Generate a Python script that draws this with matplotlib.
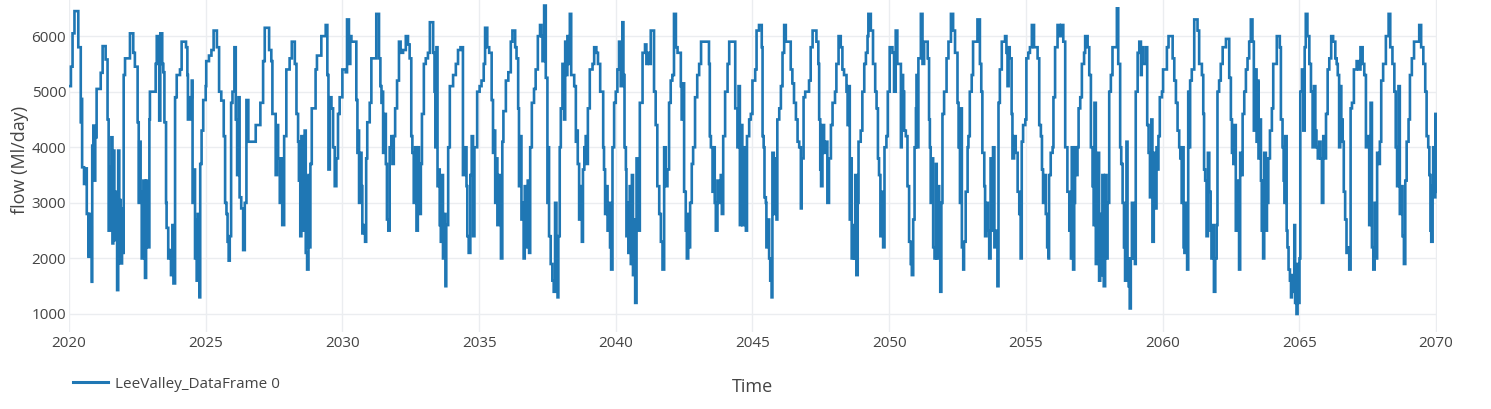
import matplotlib
matplotlib.use("Agg")
import matplotlib.pyplot as plt

plt.rcParams['font.family'] = ['Open Sans', 'DejaVu Sans']

# ---- data: time (decimal years) and flow (Ml/day) ----
time_2020s = [
    2020.00, 2020.07, 2020.13, 2020.20, 2020.34, 2020.43, 2020.45, 2020.48, 2020.55, 2020.61, 2020.65, 2020.71, 2020.74, 2020.78, 2020.83, 2020.85, 2020.89, 2020.94, 2020.96,
    2021.01, 2021.16, 2021.23, 2021.34, 2021.41, 2021.45, 2021.50, 2021.55, 2021.59, 2021.62, 2021.66, 2021.71, 2021.76, 2021.80, 2021.84, 2021.89, 2021.94, 2021.96,
    2022.00, 2022.05, 2022.23, 2022.35, 2022.41, 2022.51, 2022.55, 2022.57, 2022.62, 2022.66, 2022.72, 2022.78, 2022.82, 2022.87, 2022.90, 2022.94, 2022.96,
    2023.17, 2023.21, 2023.30, 2023.34, 2023.41, 2023.45, 2023.49, 2023.55, 2023.57, 2023.63, 2023.70, 2023.73, 2023.78, 2023.82, 2023.88, 2023.94,
    2024.06, 2024.12, 2024.28, 2024.33, 2024.35, 2024.43, 2024.49, 2024.52, 2024.57, 2024.61, 2024.65, 2024.67, 2024.71, 2024.77, 2024.80, 2024.85, 2024.91,
    2025.00, 2025.02, 2025.12, 2025.21, 2025.29, 2025.41, 2025.49, 2025.57, 2025.66, 2025.71, 2025.76, 2025.80, 2025.84, 2025.88, 2025.93, 2025.98,
    2026.05, 2026.10, 2026.15, 2026.20, 2026.24, 2026.30, 2026.37, 2026.43, 2026.49, 2026.56, 2026.83,
    2027.00, 2027.10, 2027.16, 2027.32, 2027.40, 2027.44, 2027.56, 2027.61, 2027.65, 2027.71, 2027.77, 2027.80, 2027.87, 2027.95,
    2028.07, 2028.15, 2028.26, 2028.32, 2028.38, 2028.41, 2028.46, 2028.50, 2028.54, 2028.59, 2028.62, 2028.66, 2028.71, 2028.76, 2028.78, 2028.83, 2028.88,
    2029.02, 2029.07, 2029.23, 2029.39, 2029.45, 2029.49, 2029.54, 2029.60, 2029.66, 2029.72, 2029.78, 2029.84, 2029.90,
]
flow_2020s = [
    5100, 5450, 6050, 6450, 5800, 4450, 4870, 3640, 3340, 3620, 2800, 2030, 2800, 2550, 1580, 4030, 4390, 3400, 4180,
    5050, 5340, 5820, 5580, 4500, 2500, 3640, 4180, 2270, 3940, 2330, 3200, 1430, 3940, 3050, 1910, 2900, 2100,
    5300, 5600, 6050, 5700, 5450, 4450, 3000, 4100, 3200, 2000, 3400, 1650, 3400, 2500, 2200, 4500, 5000,
    5500, 6000, 4480, 6050, 5500, 5350, 4450, 3000, 2550, 2000, 2150, 1700, 2600, 1550, 4900, 5300,
    5400, 5900, 5800, 5300, 4500, 4900, 5200, 3000, 3600, 2000, 2700, 1600, 2800, 1300, 3700, 4300, 4850,
    5100, 5550, 5650, 5750, 6100, 5800, 5000, 4840, 4200, 3000, 2800, 2300, 1960, 2400, 4800, 5000,
    5800, 4500, 3500, 4900, 3100, 2900, 2150, 3000, 4850, 4100, 4400,
    4800, 5550, 6150, 5750, 5550, 4600, 3500, 4400, 3800, 3000, 3800, 2600, 4200, 5400,
    5600, 5900, 5500, 4600, 4100, 3400, 2400, 4200, 2500, 3500, 4300, 2100, 1800, 3500, 2200, 3700, 4700,
    5400, 5650, 6000, 6200, 5300, 3600, 4900, 4700, 4000, 3300, 3800, 4600, 4900,
]

time_2030s = [
    2030.00, 2030.12, 2030.17, 2030.24, 2030.29, 2030.33, 2030.51, 2030.55, 2030.59, 2030.61, 2030.66, 2030.70, 2030.73, 2030.78, 2030.83, 2030.87, 2030.91,
    2031.00, 2031.06, 2031.24, 2031.34, 2031.39, 2031.43, 2031.46, 2031.49, 2031.54, 2031.59, 2031.63, 2031.68, 2031.73, 2031.79, 2031.83, 2031.88, 2031.93,
    2032.00, 2032.07, 2032.13, 2032.22, 2032.32, 2032.40, 2032.46, 2032.52, 2032.56, 2032.61, 2032.66, 2032.71, 2032.76, 2032.80, 2032.87, 2032.91, 2032.98,
    2033.05, 2033.13, 2033.20, 2033.32, 2033.37, 2033.40, 2033.44, 2033.48, 2033.52, 2033.56, 2033.60, 2033.65, 2033.68, 2033.72, 2033.77, 2033.80, 2033.87, 2033.93,
    2034.05, 2034.15, 2034.23, 2034.32, 2034.41, 2034.48, 2034.54, 2034.57, 2034.62, 2034.68, 2034.73, 2034.78, 2034.83, 2034.93,
    2035.02, 2035.09, 2035.17, 2035.22, 2035.30, 2035.37, 2035.46, 2035.51, 2035.55, 2035.59, 2035.63, 2035.67, 2035.73, 2035.77, 2035.80, 2035.85, 2035.89, 2035.98,
    2036.07, 2036.16, 2036.22, 2036.32, 2036.37, 2036.43, 2036.46, 2036.51, 2036.55, 2036.59, 2036.63, 2036.67, 2036.73, 2036.78, 2036.83, 2036.87, 2036.93,
    2037.01, 2037.07, 2037.15, 2037.23, 2037.28, 2037.32, 2037.38, 2037.44, 2037.50, 2037.54, 2037.56, 2037.62, 2037.68, 2037.73, 2037.78, 2037.83, 2037.87, 2037.90, 2037.95, 2037.99,
    2038.05, 2038.11, 2038.15, 2038.20, 2038.23, 2038.27, 2038.32, 2038.37, 2038.48, 2038.54, 2038.57, 2038.61, 2038.66, 2038.72, 2038.76, 2038.80, 2038.85, 2038.90, 2038.94, 2038.98,
    2039.05, 2039.15, 2039.21, 2039.29, 2039.35, 2039.43, 2039.54, 2039.57, 2039.61, 2039.66, 2039.70, 2039.76, 2039.79, 2039.83, 2039.88, 2039.94,
]
flow_2030s = [
    5400, 5350, 6300, 5500, 6000, 5900, 4850, 3900, 4300, 3000, 3900, 3300, 2450, 2600, 2300, 3800, 4450,
    4800, 5600, 6400, 5600, 5100, 4800, 5000, 3900, 4600, 3700, 2700, 2500, 4000, 4200, 3700, 4200, 4700,
    5200, 5900, 5700, 5750, 6000, 5850, 5600, 4200, 3900, 3000, 4000, 2500, 4000, 2800, 3700, 4600, 5500,
    5600, 5700, 6250, 5700, 5000, 4000, 5800, 3300, 3600, 2600, 2300, 3500, 2000, 2800, 1500, 2600, 4000, 5100,
    5300, 5500, 5750, 5800, 3500, 4000, 3300, 2400, 2100, 3500, 4200, 2400, 4000, 5000,
    5100, 5200, 5500, 6150, 5800, 5700, 4850, 3900, 4300, 3000, 3800, 2600, 3500, 2900, 2000, 4100, 4650, 5200,
    5350, 5900, 6100, 5800, 5600, 4700, 3300, 4200, 2700, 3000, 2000, 3300, 2200, 3400, 2100, 4000, 4800,
    5050, 5400, 6000, 6200, 6000, 5550, 6550, 5250, 3000, 4000, 2400, 1900, 1600, 1400, 3000, 1500, 1300, 2400, 4000, 4700,
    5500, 4500, 5900, 5300, 6000, 5500, 6400, 5300, 5100, 4100, 4300, 3700, 2700, 3300, 2300, 3600, 4000, 4200, 3700, 4700,
    5400, 5500, 5800, 5700, 5500, 5000, 4000, 3600, 2800, 3300, 2500, 3000, 2200, 1800, 4000, 4800,
]

time_2040s = [
    2040.00, 2040.06, 2040.12, 2040.18, 2040.24, 2040.28, 2040.32, 2040.37, 2040.39, 2040.43, 2040.46, 2040.51, 2040.55, 2040.59, 2040.63, 2040.67, 2040.71, 2040.76, 2040.82, 2040.88, 2040.98,
    2041.07, 2041.12, 2041.16, 2041.22, 2041.28, 2041.40, 2041.46, 2041.52, 2041.59, 2041.65, 2041.71, 2041.77, 2041.83, 2041.89, 2041.95,
    2042.01, 2042.07, 2042.13, 2042.20, 2042.26, 2042.38, 2042.41, 2042.44, 2042.50, 2042.56, 2042.60, 2042.65, 2042.68, 2042.72, 2042.78, 2042.83, 2042.90, 2042.98,
    2043.05, 2043.12, 2043.41, 2043.44, 2043.48, 2043.54, 2043.59, 2043.62, 2043.66, 2043.72, 2043.78, 2043.84, 2043.88, 2043.93,
    2044.00, 2044.09, 2044.15, 2044.37, 2044.45, 2044.49, 2044.54, 2044.59, 2044.63, 2044.70, 2044.76, 2044.80, 2044.88, 2044.94,
    2045.00, 2045.10, 2045.15, 2045.24, 2045.34, 2045.37, 2045.41, 2045.44, 2045.49, 2045.51, 2045.56, 2045.61, 2045.65, 2045.70, 2045.73, 2045.78, 2045.83, 2045.88, 2045.91, 2045.98,
    2046.04, 2046.10, 2046.16, 2046.22, 2046.40, 2046.46, 2046.52, 2046.59, 2046.65, 2046.71, 2046.77, 2046.80, 2046.87, 2046.93,
    2047.07, 2047.13, 2047.20, 2047.34, 2047.41, 2047.44, 2047.48, 2047.51, 2047.56, 2047.62, 2047.68, 2047.74, 2047.80, 2047.87, 2047.93,
    2048.02, 2048.07, 2048.15, 2048.23, 2048.29, 2048.35, 2048.44, 2048.48, 2048.51, 2048.56, 2048.60, 2048.63, 2048.68, 2048.72, 2048.76, 2048.80, 2048.85, 2048.88, 2048.96,
    2049.02, 2049.09, 2049.15, 2049.21, 2049.24, 2049.33, 2049.41, 2049.49, 2049.54, 2049.59, 2049.63, 2049.68, 2049.73, 2049.78, 2049.83, 2049.90, 2049.95,
]
flow_2040s = [
    5000, 5400, 5900, 5100, 6250, 5300, 4000, 3600, 2400, 3000, 2100, 3300, 1900, 3500, 1700, 2700, 1200, 3800, 2500, 4800, 5700,
    5850, 5500, 5700, 5500, 6100, 5000, 4400, 3300, 2800, 2300, 1800, 4000, 3300, 3600, 4800,
    5200, 5300, 6400, 5800, 5700, 5100, 4500, 5150, 3200, 2500, 2000, 2800, 2200, 3000, 3700, 4000, 4900, 5300,
    5500, 5900, 5500, 4200, 4000, 3200, 4000, 3000, 2500, 3400, 3000, 3500, 2800, 4200,
    5000, 5500, 5900, 4700, 4000, 5100, 2600, 4400, 2600, 4000, 2500, 4200, 4500, 4600,
    5200, 5400, 6100, 6200, 5800, 4200, 4000, 3100, 3000, 2200, 2700, 2000, 1600, 1300, 3900, 2800, 3800, 2700, 4500, 4700,
    5100, 5700, 6200, 5900, 5400, 5150, 4800, 4500, 4100, 4000, 2900, 3800, 4900, 5000,
    5200, 5800, 6100, 5900, 5500, 4500, 3600, 3300, 4400, 3900, 4100, 3000, 3800, 4400, 4800,
    5000, 5500, 6000, 5800, 5400, 5300, 5000, 4400, 5100, 2700, 3800, 2000, 2600, 2000, 3500, 1700, 3000, 4100, 4300,
    5000, 5500, 5700, 6000, 6400, 6100, 5500, 5000, 4700, 3800, 3500, 2400, 3200, 2200, 4000, 4200, 5000,
]

time_2050s = [
    2050.02, 2050.12, 2050.18, 2050.24, 2050.30, 2050.43, 2050.46, 2050.51, 2050.55, 2050.61, 2050.67, 2050.73, 2050.79, 2050.83, 2050.88, 2050.93, 2050.98,
    2051.00, 2051.04, 2051.07, 2051.16, 2051.22, 2051.28, 2051.41, 2051.46, 2051.49, 2051.52, 2051.56, 2051.61, 2051.66, 2051.71, 2051.74, 2051.78, 2051.83, 2051.87, 2051.91, 2051.95,
    2052.01, 2052.10, 2052.17, 2052.26, 2052.34, 2052.41, 2052.50, 2052.54, 2052.59, 2052.62, 2052.66, 2052.71, 2052.74, 2052.80, 2052.87, 2052.90, 2052.95,
    2053.02, 2053.07, 2053.23, 2053.32, 2053.37, 2053.41, 2053.48, 2053.51, 2053.56, 2053.61, 2053.66, 2053.71, 2053.76, 2053.80, 2053.85, 2053.90, 2053.96,
    2054.00, 2054.05, 2054.12, 2054.24, 2054.29, 2054.33, 2054.37, 2054.41, 2054.48, 2054.51, 2054.57, 2054.63, 2054.70, 2054.76, 2054.81, 2054.85, 2054.90, 2054.98,
    2055.02, 2055.09, 2055.15, 2055.22, 2055.30, 2055.43, 2055.49, 2055.55, 2055.59, 2055.63, 2055.68, 2055.73, 2055.78, 2055.83, 2055.85, 2055.91, 2055.98,
    2056.01, 2056.07, 2056.16, 2056.24, 2056.29, 2056.37, 2056.44, 2056.52, 2056.59, 2056.65, 2056.68, 2056.73, 2056.77, 2056.80, 2056.85, 2056.89, 2056.93, 2056.99,
    2057.05, 2057.13, 2057.17, 2057.26, 2057.32, 2057.38, 2057.44, 2057.48, 2057.51, 2057.56, 2057.60, 2057.63, 2057.68, 2057.72, 2057.76, 2057.80, 2057.85, 2057.90, 2057.95, 2057.99,
    2058.05, 2058.11, 2058.17, 2058.33, 2058.38, 2058.45, 2058.49, 2058.54, 2058.59, 2058.63, 2058.68, 2058.72, 2058.76, 2058.80, 2058.84, 2058.88, 2058.93, 2058.99,
    2059.02, 2059.09, 2059.15, 2059.21, 2059.24, 2059.29, 2059.39, 2059.44, 2059.49, 2059.54, 2059.59, 2059.63, 2059.68, 2059.73, 2059.78, 2059.82, 2059.85, 2059.90, 2059.98,
]
flow_2050s = [
    5800, 5700, 5000, 6100, 5500, 4000, 5300, 5000, 4300, 4200, 3300, 2300, 1900, 1700, 2700, 4000, 4700,
    5300, 4000, 5600, 6400, 5500, 5900, 5600, 4500, 4000, 3000, 3800, 2200, 2000, 3700, 2000, 3300, 2300, 1400, 3000, 4600,
    5000, 5600, 5900, 6400, 6100, 5700, 4800, 4000, 3000, 4700, 2200, 1800, 2300, 3200, 4000, 4200, 5000,
    5300, 5900, 6300, 5500, 5000, 3900, 3300, 2400, 3000, 2500, 2000, 3800, 2500, 4000, 2200, 2500, 1500,
    4800, 5400, 5900, 6000, 5700, 5100, 5800, 5600, 4600, 3800, 4200, 3900, 3200, 2800, 2000, 4100, 4400, 4500,
    5600, 5700, 5800, 6200, 5800, 5600, 4400, 4200, 3600, 3000, 3500, 2800, 2200, 2000, 3500, 3900, 4000,
    4900, 5800, 6200, 6000, 6200, 5900, 4000, 3200, 2500, 2000, 4000, 1800, 3000, 4000, 3500, 4000, 4700, 4900,
    5500, 5700, 6000, 5800, 5300, 4000, 3300, 2600, 4800, 1900, 2200, 3900, 1600, 2800, 1700, 3500, 1500, 3500, 2000, 3000,
    5000, 5300, 5800, 6500, 5500, 4000, 3700, 3000, 2200, 1600, 4100, 2000, 1500, 1100, 2000, 3000, 2000, 1900,
    5000, 5700, 5900, 5300, 5800, 5500, 5800, 4400, 3900, 3100, 4500, 2300, 3900, 2900, 4000, 3600, 4200, 4900, 5000,
]

time_2060s = [
    2060.02, 2060.16, 2060.22, 2060.37, 2060.43, 2060.49, 2060.55, 2060.61, 2060.65, 2060.70, 2060.73, 2060.77, 2060.80, 2060.85, 2060.90, 2060.94, 2060.98,
    2061.01, 2061.07, 2061.16, 2061.28, 2061.34, 2061.44, 2061.49, 2061.52, 2061.56, 2061.61, 2061.66, 2061.71, 2061.76, 2061.79, 2061.83, 2061.88, 2061.93, 2061.98,
    2062.01, 2062.07, 2062.13, 2062.20, 2062.32, 2062.44, 2062.50, 2062.54, 2062.59, 2062.63, 2062.68, 2062.72, 2062.76, 2062.80, 2062.84, 2062.89, 2062.93, 2062.99,
    2063.05, 2063.11, 2063.17, 2063.23, 2063.29, 2063.34, 2063.39, 2063.44, 2063.49, 2063.51, 2063.56, 2063.60, 2063.63, 2063.68, 2063.72, 2063.78, 2063.82, 2063.87, 2063.93,
    2064.00, 2064.05, 2064.18, 2064.29, 2064.33, 2064.39, 2064.43, 2064.46, 2064.49, 2064.54, 2064.57, 2064.61, 2064.66, 2064.70, 2064.73, 2064.78, 2064.82, 2064.85, 2064.90, 2064.94, 2064.98,
    2065.01, 2065.04, 2065.10, 2065.15, 2065.20, 2065.24, 2065.30, 2065.37, 2065.43, 2065.49, 2065.54, 2065.59, 2065.63, 2065.68, 2065.73, 2065.78, 2065.83, 2065.88, 2065.93, 2065.98,
    2066.04, 2066.10, 2066.17, 2066.24, 2066.32, 2066.37, 2066.41, 2066.46, 2066.50, 2066.54, 2066.59, 2066.63, 2066.68, 2066.73, 2066.78, 2066.83, 2066.88, 2066.93,
    2067.00, 2067.10, 2067.17, 2067.24, 2067.32, 2067.38, 2067.44, 2067.50, 2067.56, 2067.61, 2067.66, 2067.71, 2067.76, 2067.80, 2067.85, 2067.90, 2067.95,
    2068.00, 2068.07, 2068.17, 2068.27, 2068.33, 2068.41, 2068.48, 2068.53, 2068.58, 2068.63, 2068.68, 2068.73, 2068.78, 2068.83, 2068.88, 2068.93,
    2069.00, 2069.05, 2069.12, 2069.20, 2069.39, 2069.46, 2069.54, 2069.61, 2069.66, 2069.72, 2069.76, 2069.80, 2069.83, 2069.88, 2069.90, 2069.94, 2069.98,
    2070.01, 2070.04,
]
flow_2060s = [
    5400, 5800, 6000, 5600, 5200, 4800, 4300, 4000, 3800, 3000, 4000, 2200, 2100, 3000, 1800, 5000, 4000,
    5200, 5400, 6300, 6100, 5500, 5300, 4600, 3600, 3400, 2400, 3900, 3200, 2500, 2000, 2600, 1400, 2000, 2600,
    5000, 5200, 5500, 5800, 5950, 5250, 4500, 3900, 3700, 4400, 2500, 3400, 2500, 1800, 3900, 3500, 4600, 5000,
    5400, 5600, 5900, 6300, 5900, 4300, 5400, 4100, 5200, 3800, 4500, 3400, 2500, 2000, 3900, 2500, 3000, 3800, 4300,
    4700, 5500, 6000, 5800, 4500, 4000, 3400, 3000, 4200, 2500, 2200, 1800, 1600, 1300, 1700, 1400, 2600, 1200, 1000, 1900, 1200,
    2000, 5000, 5400, 4300, 5800, 6400, 6000, 5500, 5000, 4000, 5100, 4300, 4000, 3800, 4100, 3800, 3000, 4200, 3800, 4600,
    5400, 5600, 6000, 5900, 5600, 5500, 5300, 4000, 5100, 4500, 4100, 3200, 2700, 2100, 2200, 1800, 4700, 4800,
    5400, 5550, 5400, 5800, 5500, 5300, 4000, 4200, 2600, 4800, 2200, 1800, 3000, 2000, 3900, 3700, 4100,
    5200, 5500, 6000, 6400, 5800, 5500, 5000, 4000, 3300, 5100, 2800, 3300, 2400, 1900, 3400, 4100,
    4500, 5300, 5600, 5900, 6200, 5800, 5500, 5000, 4200, 4000, 3500, 2500, 2300, 3300, 4000, 3100, 4600,
    3200, 4300,
]

x_ticks = [2020, 2025, 2030, 2035, 2040, 2045, 2050, 2055, 2060, 2065, 2070]
y_ticks = [1000, 2000, 3000, 4000, 5000, 6000]
series_name = "LeeValley_DataFrame 0"

time = time_2020s + time_2030s + time_2040s + time_2050s + time_2060s
flow = flow_2020s + flow_2030s + flow_2040s + flow_2050s + flow_2060s

# ---- figure ----
W, H = 1491, 409
fig = plt.figure(figsize=(W / 100, H / 100), dpi=100)
ax = fig.add_axes([69 / W, (H - 332) / H, (1437 - 69) / W, 332 / H])

line_color = '#1f77b4'
ax.plot(time, flow, drawstyle='steps-post', color=line_color, lw=1.9,
        solid_joinstyle='miter', label=series_name)

ax.set_xlim(2020.0, 2070.04)
ax.set_ylim(676, 6650)
ax.set_xticks(x_ticks)
ax.set_xticklabels([str(v) for v in x_ticks])
ax.set_yticks(y_ticks)
ax.set_yticklabels([str(v) for v in y_ticks])

grid_color = '#ebedf0'
ax.grid(True, color=grid_color, lw=1.0)
ax.set_axisbelow(True)
for s in ax.spines.values():
    s.set_visible(False)
ax.tick_params(axis='both', length=0, labelcolor='#444444', labelsize=11)
ax.tick_params(axis='x', pad=3)
ax.tick_params(axis='y', pad=2)

fig.text(20 / W, 1 - 160 / H, 'flow (Ml/day)', rotation=90, ha='center', va='center',
         fontsize=13, color='#444444')
fig.text(753 / W, 1 - 387 / H, 'Time', ha='center', va='center', fontsize=13, color='#444444')

leg = fig.legend(loc='center left', bbox_to_anchor=(73 / W, 1 - 384 / H),
                 bbox_transform=fig.transFigure, frameon=False, fontsize=11,
                 handlelength=2.3, handletextpad=0.45, borderpad=0, borderaxespad=0)
for txt in leg.get_texts():
    txt.set_color('#444444')
for h in leg.legend_handles:
    h.set_linewidth(2.2)

fig.savefig('out.png', dpi=100, facecolor='white')
